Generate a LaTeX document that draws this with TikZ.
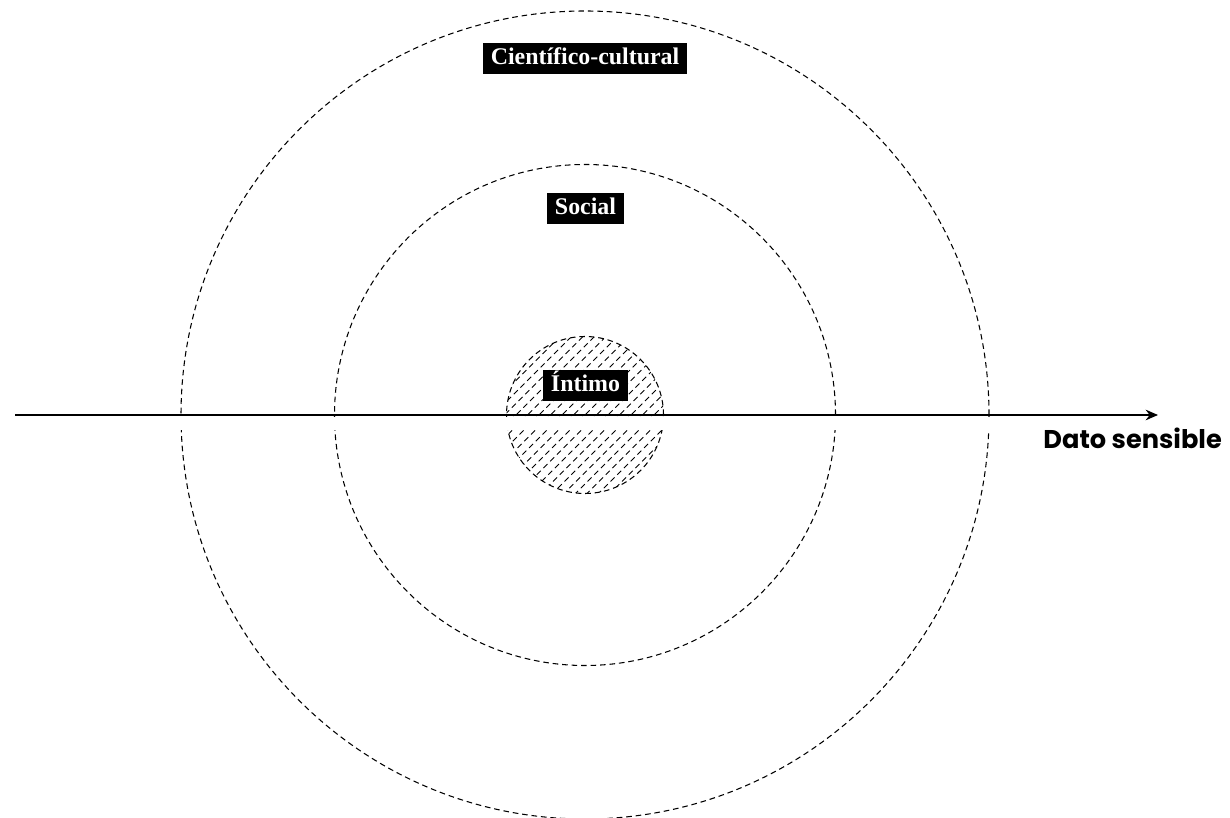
\documentclass[tikz,border=0pt]{standalone}
\usepackage{fontspec}
\setmainfont{Liberation Serif}
\setsansfont{Poppins}
\usetikzlibrary{positioning, arrows.meta, calc}
\tikzset{
    anillo/.style={dash pattern=on 3.2pt off 2.2pt, line width=0.6pt},
    etiqueta/.style={fill=black, text=white, font=\fontsize{13.6}{15}\selectfont\bfseries,
        inner xsep=4.6pt, inner ysep=0pt, minimum height=0.62cm, text height=9.6pt, text depth=2.8pt},
}

\begin{document}
\begin{tikzpicture}
    \useasboundingbox (0,0) rectangle (24.6,16.34);
    \coordinate (centro) at (11.7,8.04);
    % circulos
    \begin{scope}
        \clip (centro) circle (1.57);
        \foreach \k in {-16,...,16}
            \draw[anillo, line width=0.55pt] ($(centro)+(\k*0.23-2,-2)$) -- ++(4,4);
    \end{scope}
    \draw[anillo] (centro) circle (1.57);
    \draw[anillo] (centro) circle (5.01);
    \draw[anillo] (centro) circle (8.08);
    % franja blanca bajo el eje
    \fill[white] (3,7.74) rectangle (20.5,7.99);
    % eje
    \coordinate (ejeIni) at (0.3,8.04);
    \coordinate (ejeFin) at (23.16,8.04);
    \draw[line width=1.7pt, -{Stealth[length=7pt,width=6pt]}] (ejeIni) -- (ejeFin);
    \node[anchor=base east, font=\sffamily\fontsize{14.6}{16}\selectfont\bfseries] (dato) at (24.56,7.36) {Dato sensible};
    % etiquetas
    \node[etiqueta] (cientifico) at (11.7,15.16) {Científico-cultural};
    \node[etiqueta] (social) at (11.71,12.17) {Social};
    \node[etiqueta] (intimo) at (11.71,8.63) {Íntimo};
\end{tikzpicture}
\end{document}
